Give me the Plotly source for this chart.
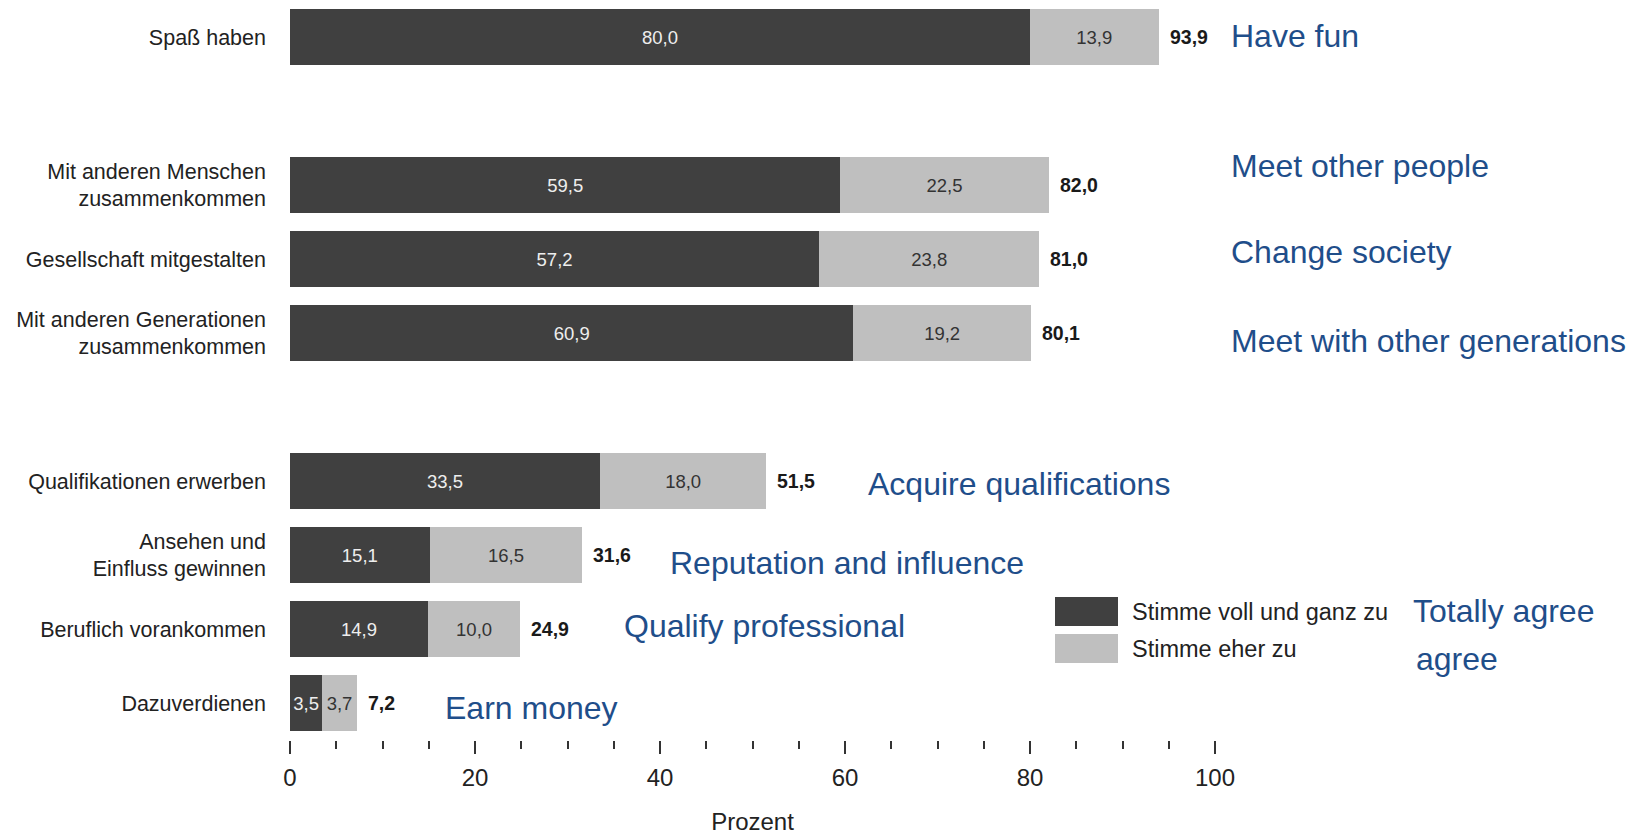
import plotly.graph_objects as go

# ---------------- data ----------------
categories = [
    "Spaß haben",
    "Mit anderen Menschen<br>zusammenkommen",
    "Gesellschaft mitgestalten",
    "Mit anderen Generationen<br>zusammenkommen",
    "Qualifikationen erwerben",
    "Ansehen und<br>Einfluss gewinnen",
    "Beruflich vorankommen",
    "Dazuverdienen",
]
voll_und_ganz = [80.0, 59.5, 57.2, 60.9, 33.5, 15.1, 14.9, 3.5]
eher = [13.9, 22.5, 23.8, 19.2, 18.0, 16.5, 10.0, 3.7]
totals = [93.9, 82.0, 81.0, 80.1, 51.5, 31.6, 24.9, 7.2]
english_labels = [
    "Have fun",
    "Meet other people",
    "Change society",
    "Meet with other generations",
    "Acquire qualifications",
    "Reputation and influence",
    "Qualify professional",
    "Earn money",
]
series_names = ["Stimme voll und ganz zu", "Stimme eher zu"]
series_english = ["Totally agree", "agree"]
x_tickvals = [0, 20, 40, 60, 80, 100]
x_title = "Prozent"

# category order with blank spacer rows between the groups
category_order = [categories[0], " ", categories[1], categories[2], categories[3],
                  "  ", categories[4], categories[5], categories[6], categories[7]]

# ---------------- styling ----------------
DARK = "#404040"
LIGHT = "#bfbfbf"
BLUE = "#1f4e8a"
TXT = "#222222"
FONT = "Liberation Sans, Arial, sans-serif"

W, H = 1643, 835
PL, PR, PT, PB = 290, 1215, 0, 740


def px(x):
    return (x - PL) / (PR - PL)


def py(y):
    return (PB - y) / (PB - PT)


fig = go.Figure()
fig.add_trace(go.Bar(
    y=categories, x=voll_und_ganz, orientation="h", name=series_names[0],
    marker=dict(color=DARK, line=dict(width=0)),
    texttemplate="%{x:.1f}", textposition="inside", insidetextanchor="middle",
    constraintext="none", textangle=0,
    insidetextfont=dict(family=FONT, size=18.5, color="#eeeeee"),
    showlegend=False,
))
fig.add_trace(go.Bar(
    y=categories, x=eher, orientation="h", name=series_names[1],
    marker=dict(color=LIGHT, line=dict(width=0)),
    texttemplate="%{x:.1f}", textposition="inside", insidetextanchor="middle",
    constraintext="none", textangle=0,
    insidetextfont=dict(family=FONT, size=18.5, color="#333333"),
    showlegend=False,
))

annotations = []
# totals at the end of each bar
for cat, tot in zip(categories, totals):
    annotations.append(dict(
        x=tot, y=cat, xref="x", yref="y", text=f"{tot:.1f}".replace(".", ","),
        showarrow=False, xanchor="left", yanchor="middle", xshift=9,
        font=dict(family=FONT, size=19.5, color="#1a1a1a", weight="bold"),
    ))

# blue English translations
english_pos = [(1229, 36), (1229, 166), (1229, 252), (1229, 341),
               (866, 484), (668, 563), (622, 626), (443, 708)]
for lab, (ex, ey) in zip(english_labels, english_pos):
    annotations.append(dict(
        x=px(ex), y=py(ey), xref="paper", yref="paper", text=lab,
        showarrow=False, xanchor="left", yanchor="middle",
        font=dict(family=FONT, size=32, color=BLUE),
    ))

# legend (large swatches)
shapes = []
legend_rows = [(597, 626, DARK), (634, 663, LIGHT)]
for (y0, y1, col), name, eng, ey, ex in zip(legend_rows, series_names, series_english,
                                            [611, 659], [1411, 1414]):
    shapes.append(dict(type="rect", xref="paper", yref="paper",
                       x0=px(1055), x1=px(1118), y0=py(y1), y1=py(y0),
                       fillcolor=col, line=dict(width=0)))
    annotations.append(dict(
        x=px(1130), y=py((y0 + y1) / 2), xref="paper", yref="paper", text=name,
        showarrow=False, xanchor="left", yanchor="middle",
        font=dict(family=FONT, size=23.5, color=TXT),
    ))
    annotations.append(dict(
        x=px(ex), y=py(ey), xref="paper", yref="paper",
        text=eng, showarrow=False, xanchor="left", yanchor="middle",
        font=dict(family=FONT, size=32, color=BLUE),
    ))

fig.update_layout(
    width=W, height=H,
    margin=dict(l=PL, r=W - PR, t=PT, b=H - PB, pad=0),
    paper_bgcolor="white", plot_bgcolor="white",
    barmode="stack", bargap=0.25,
    separators=",.",
    font=dict(family=FONT, color=TXT),
    annotations=annotations, shapes=shapes,
    showlegend=False,
    xaxis=dict(
        range=[0, 100], tickvals=x_tickvals, ticks="outside", ticklen=13,
        tickwidth=2, tickcolor="#333333", showgrid=False, zeroline=False,
        showline=False, tickfont=dict(family=FONT, size=24, color=TXT),
        ticklabelstandoff=3,
        minor=dict(dtick=5, tick0=0, ticks="outside", ticklen=8, tickwidth=2,
                   tickcolor="#333333", showgrid=False),
        title=dict(text=x_title, font=dict(family=FONT, size=24, color=TXT), standoff=24),
        fixedrange=True,
    ),
    yaxis=dict(
        type="category", categoryorder="array", categoryarray=category_order,
        autorange="reversed", showgrid=False, zeroline=False, showline=False,
        ticks="", tickfont=dict(family=FONT, size=21.5, color=TXT),
        ticklabelstandoff=23, fixedrange=True,
    ),
)

fig.write_html("out.html", config={"displayModeBar": False},
               post_script="document.body.style.margin='0';")
